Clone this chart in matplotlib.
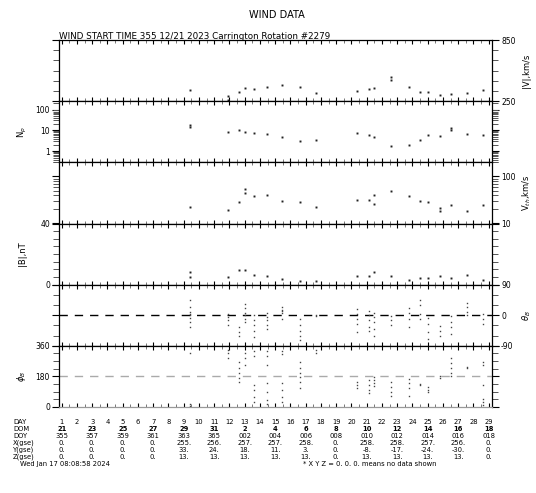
import matplotlib
matplotlib.use('Agg')
import matplotlib.pyplot as plt
import matplotlib.transforms as mtransforms
from matplotlib.ticker import FixedLocator, MultipleLocator, LogLocator, NullFormatter, FuncFormatter

plt.rcParams['font.family'] = ['DejaVu Sans']

# ---------------- data ----------------
v_day = [9.4, 11.9, 11.9, 12.6, 13.05, 13.6, 14.45, 15.45, 16.6, 17.7, 20.35, 21.15, 21.5,
         22.6, 22.6, 23.75, 24.5, 25.0, 25.8, 26.5, 27.55, 28.6]
v_val = [360, 297, 262, 343, 383, 370, 393, 410, 393, 327, 350, 370, 377,
         490, 455, 393, 343, 337, 310, 317, 327, 360]

np_day = [9.4, 9.4, 11.9, 12.6, 13.05, 13.6, 14.45, 15.45, 16.6, 17.7, 20.35, 21.15, 21.5,
          22.6, 23.75, 24.5, 25.0, 25.8, 26.5, 26.5, 27.55, 28.6]
np_val = [18, 15, 8.7, 10.5, 8.7, 7.3, 6.7, 5.0, 3.2, 3.4, 7.8, 6.0, 5.0,
          1.75, 2.1, 3.4, 6.0, 5.4, 12.8, 10, 6.7, 6.0]

vth_day = [9.4, 11.9, 12.6, 13.05, 13.05, 13.6, 14.45, 15.45, 16.6, 17.7, 20.35, 21.15, 21.5, 21.5,
           22.6, 23.75, 24.5, 25.0, 25.8, 25.8, 26.5, 27.55, 28.6]
vth_val = [22.5, 19.5, 29, 55, 45, 39, 41, 30, 29, 22.5, 31, 32, 40, 26,
           49, 39, 30, 29, 21, 18, 24.5, 18, 24.5]

b_day = [9.4, 9.4, 11.9, 12.6, 13.05, 13.6, 14.45, 15.45, 16.6, 17.7, 20.35, 21.15, 21.5,
         22.6, 23.75, 24.5, 25.0, 25.8, 26.5, 27.55, 28.6]
b_val = [5.0, 8.5, 5.0, 9.8, 9.8, 6.3, 5.5, 3.9, 2.6, 2.2, 5.9, 5.5, 8.1,
         5.5, 3.3, 4.2, 4.4, 5.9, 4.4, 6.6, 2.8]

theta_day = ([9.4] * 8 + [11.9] * 4 + [12.6] * 3 + [13.05] * 6 + [13.6] * 5 + [14.45] * 5 +
             [15.45] * 5 + [16.6] * 5 + [17.7] * 2 + [20.35] * 5 + [21.15] * 5 + [21.5] * 5 +
             [22.6] * 3 + [23.75] * 4 + [24.5] * 4 + [25.0] * 4 + [25.8] * 3 + [26.5] * 4 +
             [27.55] * 4 + [28.6] * 3)
theta_val = [45, 25, 10, 5, 0, -8, -20, -35,
             5, -5, -15, -30,
             -35, -50, -62,
             32, 20, 8, 0, -10, -20,
             0, -15, -30, -45, -65,
             8, -5, -15, -30, -40,
             23, 15, 12, 8, -10,
             -12, -30, -45, -60, -72,
             0, -2,
             17, 5, -10, -25, -50,
             12, 0, -15, -35, -45,
             8, -5, -20, -40, -60,
             -2, -15, -30,
             22, 8, -10, -35,
             45, 30, 5, -12,
             -7, -25, -50, -70,
             -31, -45, -60,
             -2, -20, -35, -55,
             37, 25, 10, 0,
             3, -10, -25]

phi_day = ([9.4] * 3 + [11.9] * 3 + [12.6] * 5 + [13.05] * 3 + [13.6] * 6 + [14.45] * 7 +
           [15.45] * 6 + [16.6] * 6 + [17.7] * 2 + [20.35] * 3 + [21.15] * 4 + [21.5] * 4 +
           [22.6] * 4 + [23.75] * 4 + [24.5] * 2 + [25.0] * 3 + [25.8] * 2 + [26.5] * 5 +
           [27.55] * 2 + [28.6] * 6)
phi_val = [16, 5, 320,
           336, 315, 290,
           266, 230, 200, 170, 150,
           316, 290, 250,
           130, 100, 60, 30, 330, 300,
           330, 300, 250, 140, 90, 40, 20,
           330, 310, 140, 100, 60, 30,
           266, 230, 200, 175, 150, 110,
           336, 320,
           146, 130, 110,
           156, 130, 100, 80,
           176, 160, 140, 126,
           146, 120, 90, 66,
           166, 140, 110, 66,
           136, 130,
           116, 100, 86,
           180, 170,
           286, 260, 230, 200, 180,
           236, 232,
           266, 250, 130, 46, 30, 10]

day_numbers = list(range(1, 30))
dom_labels = ['21', '23', '25', '27', '29', '31', '2', '4', '6', '8', '10', '12', '14', '16', '18']
doy_labels = ['355', '357', '359', '361', '363', '365', '002', '004', '006', '008', '010', '012', '014', '016', '018']
x_gse = ['0.', '0.', '0.', '0.', '255.', '256.', '257.', '257.', '258.', '0.', '258.', '258.', '257.', '256.', '0.']
y_gse = ['0.', '0.', '0.', '0.', '33.', '24.', '18.', '11.', '3.', '0.', '-8.', '-17.', '-24.', '-30.', '0.']
z_gse = ['0.', '0.', '0.', '0.', '13.', '13.', '13.', '13.', '13.', '0.', '13.', '13.', '13.', '13.', '0.']

# ---------------- figure ----------------
W, H = 536, 493
fig = plt.figure(figsize=(W / 100, H / 100), dpi=100)

left_px, right_px = 59, 492
top_px, bot_px = 40, 407
ph = (bot_px - top_px) / 6.0

axes = []
for i in range(6):
    t = top_px + i * ph
    ax = fig.add_axes([left_px / W, 1 - (t + ph) / H, (right_px - left_px) / W, ph / H])
    axes.append(ax)

FS = 5.5
TFS = 4.9
mk = dict(marker='s', markersize=1.4, linestyle='none', color='#222222', markeredgewidth=0)

def style_common(ax, label_side):
    ax.set_xlim(0.82, 29.22)
    ax.xaxis.set_major_locator(MultipleLocator(1))
    ax.xaxis.set_minor_locator(MultipleLocator(0.5))
    ax.tick_params(axis='x', which='major', direction='in', top=True, bottom=True,
                   labelbottom=False, length=3, width=0.8, color='black')
    ax.tick_params(axis='x', which='minor', direction='in', top=True, bottom=True,
                   length=2.5, width=0.7, color='#777777')
    ax.tick_params(axis='y', which='major', direction='out', left=True, right=True,
                   length=5, width=0.8, labelsize=FS, pad=1.5,
                   labelleft=(label_side == 'left'), labelright=(label_side == 'right'))
    ax.tick_params(axis='y', which='minor', direction='out', left=True, right=True,
                   length=4, width=0.7, color='#555555')
    for s in ax.spines.values():
        s.set_linewidth(0.9)

def int_fmt(v, pos):
    return '%d' % round(v)

# Panel 1: |V|
ax = axes[0]
ax.plot(v_day, v_val, **mk)
ax.set_ylim(250, 850)
ax.yaxis.set_major_locator(FixedLocator([250, 850]))
ax.yaxis.set_minor_locator(FixedLocator([350, 450, 550, 650, 750]))
ax.yaxis.set_major_formatter(FuncFormatter(int_fmt))
style_common(ax, 'right')

# Panel 2: Np
ax = axes[1]
ax.plot(np_day, np_val, **mk)
ax.set_yscale('log')
ax.set_ylim(0.3, 250)
ax.yaxis.set_major_locator(FixedLocator([1, 10, 100]))
ax.yaxis.set_minor_locator(LogLocator(base=10, subs=range(2, 10)))
ax.yaxis.set_minor_formatter(NullFormatter())
ax.yaxis.set_major_formatter(FuncFormatter(int_fmt))
style_common(ax, 'left')

# Panel 3: Vth
ax = axes[2]
ax.plot(vth_day, vth_val, **mk)
ax.set_yscale('log')
ax.set_ylim(10, 200)
ax.yaxis.set_major_locator(FixedLocator([10, 100]))
ax.yaxis.set_minor_locator(LogLocator(base=10, subs=range(2, 10)))
ax.yaxis.set_minor_formatter(NullFormatter())
ax.yaxis.set_major_formatter(FuncFormatter(int_fmt))
style_common(ax, 'right')

# Panel 4: |B|
ax = axes[3]
ax.plot(b_day, b_val, **mk)
ax.set_ylim(0, 40)
ax.yaxis.set_major_locator(FixedLocator([0, 40]))
ax.yaxis.set_minor_locator(FixedLocator([5, 10, 15, 20, 25, 30, 35]))
ax.yaxis.set_major_formatter(FuncFormatter(int_fmt))
style_common(ax, 'left')

# Panel 5: theta
ax = axes[4]
ax.axhline(0, color='black', linestyle=(0, (6, 5)), linewidth=1.0)
ax.plot(theta_day, theta_val, marker='s', markersize=1.0, linestyle='none', color='#444444', markeredgewidth=0)
ax.set_ylim(-90, 90)
ax.yaxis.set_major_locator(FixedLocator([-90, 0, 90]))
ax.yaxis.set_minor_locator(FixedLocator([-60, -30, 30, 60]))
ax.yaxis.set_major_formatter(FuncFormatter(lambda v, p: '%d' % round(v)))
style_common(ax, 'right')

# Panel 6: phi
ax = axes[5]
ax.axhline(180, color='#aaaaaa', linestyle=(0, (6, 5)), linewidth=1.0)
ax.plot(phi_day, phi_val, marker='s', markersize=1.0, linestyle='none', color='#444444', markeredgewidth=0)
ax.set_ylim(0, 360)
ax.yaxis.set_major_locator(FixedLocator([0, 180, 360]))
ax.yaxis.set_minor_locator(FixedLocator([45, 90, 135, 225, 270, 315]))
ax.yaxis.set_major_formatter(FuncFormatter(int_fmt))
style_common(ax, 'left')
ax.spines['bottom'].set_color('#999999')

# axis labels
def pc(i):
    return 1 - (top_px + i * ph + ph / 2) / H

lx, rx = 22 / W, 527 / W
fig.text(rx, pc(0), '|V|,km/s', rotation=90, ha='center', va='center', fontsize=6)
fig.text(lx, pc(1), 'N$_p$', rotation=90, ha='center', va='center', fontsize=6)
fig.text(rx, pc(2), 'V$_{th}$,km/s', rotation=90, ha='center', va='center', fontsize=6)
fig.text(lx, pc(3), '|B|,nT', rotation=90, ha='center', va='center', fontsize=6)
fig.text(rx, pc(4), r'$\theta_B$', rotation=90, ha='center', va='center', fontsize=6)
fig.text(lx, pc(5), r'$\phi_B$', rotation=90, ha='center', va='center', fontsize=6)

# titles
fig.text(277 / W, 1 - 15 / H, 'WIND DATA', ha='center', va='center', fontsize=7)
fig.text(59 / W, 1 - 39 / H, 'WIND START TIME 355 12/21 2023 Carrington Rotation #2279',
         ha='left', va='baseline', fontsize=6.3)

# bottom table
trans = mtransforms.blended_transform_factory(axes[5].transData, fig.transFigure)
row_y = [422, 429, 436, 443, 450, 457]
row_names = ['DAY', 'DOM', 'DOY', 'X(gse)', 'Y(gse)', 'Z(gse)']
for name, yp in zip(row_names, row_y):
    fig.text(13 / W, 1 - yp / H, name, ha='left', va='center', fontsize=TFS)

for d in day_numbers:
    fig.text(d, 1 - row_y[0] / H, str(d), ha='center', va='center', fontsize=TFS, transform=trans)

odd_days = list(range(1, 30, 2))
for rowi, labels in enumerate([dom_labels, doy_labels, x_gse, y_gse, z_gse]):
    for d, lab in zip(odd_days, labels):
        fig.text(d, 1 - row_y[rowi + 1] / H, lab, ha='center', va='center', fontsize=TFS,
                 transform=trans, fontweight=('bold' if rowi == 0 else 'normal'))

fig.text(20 / W, 1 - 464 / H, 'Wed Jan 17 08:08:58 2024', ha='left', va='center', fontsize=TFS)
fig.text(303 / W, 1 - 464 / H, '* X Y Z = 0. 0. 0. means no data shown', ha='left', va='center', fontsize=TFS)

fig.savefig('out.png', dpi=100)
